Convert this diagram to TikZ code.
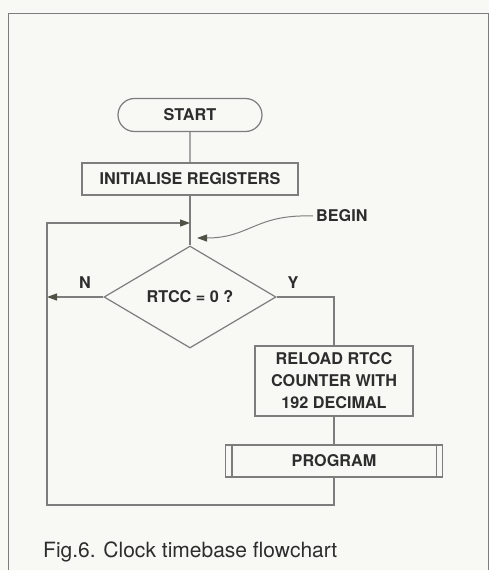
\documentclass[tikz,border=0pt]{standalone}
\usepackage{fontspec}
\setmainfont{TeX Gyre Heros}
\usepackage{tikz}
\usetikzlibrary{arrows.meta,positioning,shapes,calc}
\definecolor{paper}{RGB}{248,248,244}
\definecolor{ink}{RGB}{45,45,45}
\definecolor{wire}{RGB}{125,125,125}
\definecolor{head}{RGB}{80,82,70}

\begin{document}
\begin{tikzpicture}[x=1pt, y=-1pt,
  every node/.style={text=ink, font=\fontsize{16.2}{22}\selectfont\bfseries},
  box/.style={draw=wire, line width=1.2pt, inner sep=0pt, align=center},
  term/.style={box, rounded rectangle, minimum width=144pt, minimum height=33pt},
  proc/.style={box, rectangle},
  decide/.style={box, diamond, minimum width=172pt, minimum height=102pt},
  flow/.style={draw=wire, line width=1.2pt},
  tip/.style={-{Triangle[length=10pt,width=7pt,color=head]}},
]
\fill[paper] (0,0) rectangle (489,570);
\useasboundingbox (0,0) rectangle (489,570);
\draw[wire, line width=1pt] (8,570) -- (8,13) -- (488,13) -- (488,570);

\node[term] (start) at (190,115) {START};
\node[proc, minimum width=216pt, minimum height=32pt] (init) at (190,179) {INITIALISE REGISTERS};
\node[decide] (test) at (190,297) {RTCC = 0 ?};
\node[proc, minimum width=158pt, minimum height=70pt] (reload) at (334,381)
  {RELOAD RTCC\\COUNTER WITH\\192 DECIMAL};
\node[proc, minimum width=217pt, minimum height=32pt] (prog) at (334,461) {PROGRAM};
\draw[flow] ([xshift=7pt]prog.north west) -- ([xshift=7pt]prog.south west);
\draw[flow] ([xshift=-7pt]prog.north east) -- ([xshift=-7pt]prog.south east);

\node (no) at (85,283) {N};
\node (yes) at (293,283) {Y};
\node[anchor=west, inner sep=0pt] (begin) at (316,216) {BEGIN};
\node[anchor=west, inner sep=0pt, font=\fontsize{21}{24}\selectfont] (caption) at (43,552)
  {Fig.6. Clock timebase flowchart};

\coordinate (join) at (190,223);
\coordinate (entry) at (197,238);
\coordinate (nout) at (47,297);
\coordinate (loopb) at (47,505);
\coordinate (loopt) at (47,223);

\draw[flow] (start) -- (init);
\draw[flow] (init) -- (test);
\draw[flow, tip] (test.west) -- (nout);
\draw[flow] (test.east) -| (reload.north);
\draw[flow] (reload) -- (prog);
\draw[flow, tip] (prog.south) |- (loopb) -- (loopt) -- (join);
\draw[wire, line width=1pt, tip] ([xshift=-3pt]begin.west) .. controls (255,214) and (250,238) .. (entry);
\end{tikzpicture}
\end{document}
